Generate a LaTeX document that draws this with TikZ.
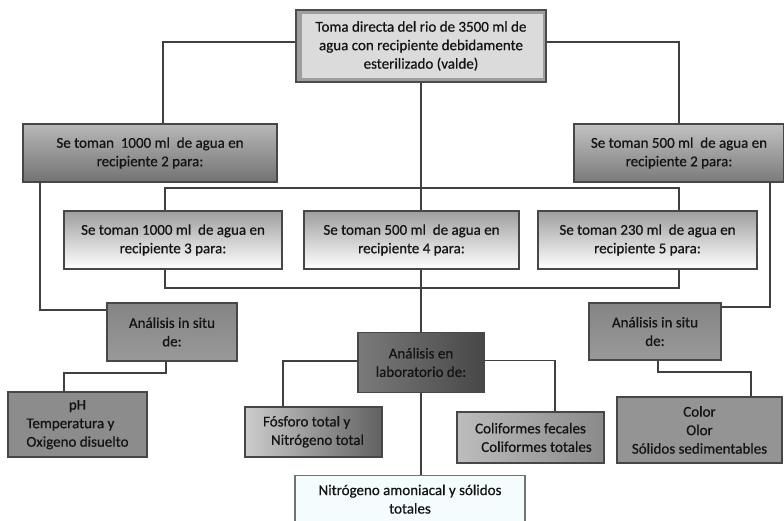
\documentclass[tikz,border=0pt]{standalone}
\usepackage{fontspec}
\setmainfont{Carlito}[FakeBold=0.6]
\newfontfamily\boxfont{Carlito}[FakeBold=0.6]
\usetikzlibrary{backgrounds}
\begin{document}
\begin{tikzpicture}[x=1bp,y=-1bp,
  box/.style={draw=black!72, line width=1.1bp, align=center, inner sep=2bp,
    font=\boxfont\fontsize{15bp}{18.5bp}\selectfont, text=black!92},
  ln/.style={draw=black!75, line width=1.3bp},
  midbox/.style={box, shade, top color=black!38, bottom color=white,
    minimum height=58bp},
  situ/.style={box, shade, top color=black!48, middle color=black!28, bottom color=black!40,
    minimum width=131bp, minimum height=58bp}]
\useasboundingbox (0,0) rectangle (784,521);
\clip (0,0) rectangle (784,521);

% top box
\node[box, draw=black!70, line width=1.6bp, fill=black!38,
  minimum width=250bp, minimum height=72bp,
  path picture={\fill[black!14] ([xshift=6bp,yshift=-4bp]path picture bounding box.north west)
     rectangle ([xshift=-3bp,yshift=4bp]path picture bounding box.south east);}]
  (top) at (421,46) {Toma directa del rio de 3500 ml de\\agua con recipiente debidamente\\esterilizado (valde)};

% second level
\node[box, shade, top color=black!28, bottom color=black!55,
  minimum width=254bp, minimum height=58bp] (L2) at (150,153)
  {Se toman\ \ 1000 ml\ \ de agua en\\recipiente 2 para:};
\node[box, shade, top color=black!24, bottom color=black!52,
  minimum width=210bp, minimum height=58bp] (R2) at (679,153)
  {Se toman 500 ml\ \ de agua en\\recipiente 2 para:};

% middle row
\node[midbox, minimum width=218bp] (R3) at (173,240)
  {Se toman 1000 ml\ \ de agua en\\recipiente 3 para:};
\node[midbox, minimum width=215bp] (R4) at (411.5,240)
  {Se toman 500 ml\ \ de agua en\\recipiente 4 para:};
\node[midbox, minimum width=219bp] (R5) at (647.5,240)
  {Se toman 230 ml\ \ de agua en\\recipiente 5 para:};

% analysis boxes
\node[situ, minimum width=130bp] (AL) at (172,332) {Análisis in situ\\de:};
\node[situ, minimum width=132bp, minimum height=57bp] (AR) at (655,331.5) {Análisis in situ\\de:};
\node[box, shade, left color=black!52, right color=black!72,
  minimum width=126bp, minimum height=60bp] (Lab) at (421,362.5)
  {Análisis en\\laboratorio de:};

% leaves
\node[box, fill=black!45, minimum width=139bp, minimum height=65bp] (PH) at (77.5,424.5)
  {\begin{tabular}{@{}l@{}}\multicolumn{1}{@{}c@{}}{pH}\\Temperatura y\\Oxigeno disuelto\end{tabular}};
\node[box, shade, left color=black!20, right color=black!62,
  minimum width=137bp, minimum height=50bp] (FO) at (313.5,432)
  {\begin{tabular}{@{}l@{}}Fósforo total y\\\hspace*{8bp}Nitrógeno total\end{tabular}};
\node[box, shade, left color=black!26, right color=black!46,
  minimum width=147bp, minimum height=51bp] (CF) at (530.5,437.5)
  {Coliformes fecales\\\hspace*{12bp}Coliformes totales};
\node[box, fill=black!42, minimum width=165bp, minimum height=66bp] (CO) at (699.5,430)
  {Color\\Olor\\Sólidos sedimentables};
\node[box, draw=black!55, fill=cyan!4, line width=1.3bp, anchor=north,
  minimum width=230bp, inner ysep=9bp] (N) at (410,475)
  {Nitrógeno amoniacal y sólidos\\totales\\[8bp]\mbox{}};

\coordinate (c1) at (165,188);
\coordinate (c2) at (679,188);
\coordinate (c3) at (679,288);
\coordinate (c4) at (165,288);
\coordinate (lv) at (40,310);
\coordinate (rv) at (770,307);
\coordinate (al1) at (166,373);
\coordinate (al2) at (64,373);
\coordinate (ar1) at (658,372);
\coordinate (ar2) at (751,372);

\begin{pgfonlayer}{background}
\draw[ln] ([yshift=4bp]top.west) -| ([xshift=13bp]L2.north);
\draw[ln] ([yshift=4bp]top.east) -| (R2.north);
\draw[ln] (top.south) -- (Lab.north);
\draw[ln] (Lab.south) -- (Lab.south |- N.north);
\draw[ln] (R3.north -| c1) -- (c1) -- (c2) -- (R5.north -| c2);
\draw[ln] (R3.south -| c4) -- (c4) -- (c3) -- (R5.south -| c3);
\draw[ln] (L2.south -| lv) -- (lv) -- (AL.west |- lv);
\draw[ln] (R2.south -| rv) -- (rv) -- (AR.east |- rv);
\draw[ln] (AL.south -| al1) -- (al1) -- (al2) -- (PH.north -| al2);
\draw[ln] (AR.south -| ar1) -- (ar1) -- (ar2) -- (CO.north -| ar2);
\draw[ln] ([yshift=1.5bp]Lab.west) -| ([xshift=-30.5bp]FO.north);
\draw[ln] ([yshift=2bp]Lab.east) -| ([xshift=24.5bp]CF.north);
\end{pgfonlayer}
\end{tikzpicture}
\end{document}
